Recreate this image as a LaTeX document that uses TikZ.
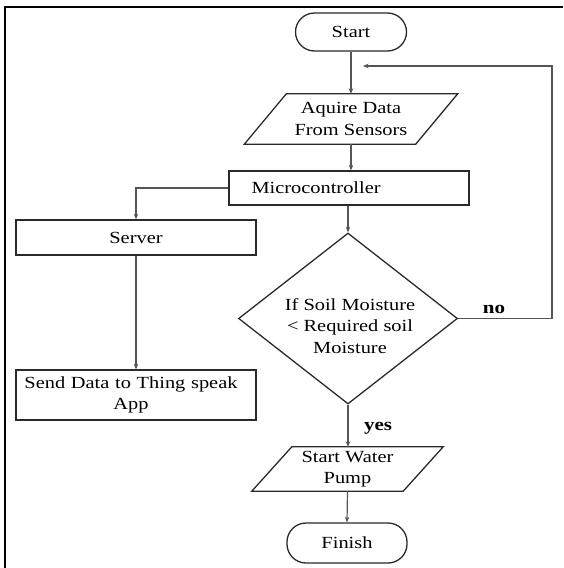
\documentclass[tikz,border=0pt]{standalone}
\usepackage{fontspec}
\setmainfont{Liberation Serif}[FakeStretch=1.2]
\usetikzlibrary{arrows.meta,shapes.geometric}
\definecolor{linec}{HTML}{555555}
\definecolor{boxc}{HTML}{2A2A2A}
\begin{document}
\begin{tikzpicture}[x=1pt,y=-1pt,
  every node/.style={font=\fontsize{17}{21.5}\selectfont, text=black},
  outl/.style={draw=boxc, line width=1.3pt},
  box/.style={outl, rectangle, inner sep=0pt, align=center},
  term/.style={box, rounded corners=19pt},
  para/.style={align=center, inner sep=0pt},
  conn/.style={draw=linec, line width=1.2pt, -{Stealth[length=5.5pt,width=4.5pt]}},
  lbl/.style={font=\bfseries\fontsize{17.5}{20}\selectfont}]
\useasboundingbox (0,0) rectangle (563,568);
% outer frame
\draw[line width=2pt, black] (563,7) -- (5,7) -- (5,568);

% nodes
\node[term, minimum width=111pt, minimum height=38pt] (start) at (351,32) {Start};

\node[para, minimum width=171pt, minimum height=50pt] (acq) at (351,119) {Aquire Data\\From Sensors};
\draw[outl] ([xshift=21pt]acq.north west) -- ([xshift=21pt]acq.north east)
  -- ([xshift=-21pt]acq.south east) -- ([xshift=-21pt]acq.south west) -- cycle;

\node[box, minimum width=240pt, minimum height=34pt, text width=195pt, align=left] (micro) at (349,188) {Microcontroller};

\node[box, minimum width=240pt, minimum height=35pt] (server) at (136,237.5) {Server};

\node[box, minimum width=240pt, minimum height=50pt, text width=226pt, align=center] (send) at (136,395) {\hspace*{-10pt}Send Data to Thing speak\\\hspace*{-10pt}App};

\node[diamond, outl, minimum width=219pt, minimum height=171pt, inner sep=0pt, aspect=1.28] (dia) at (348,318.5) {};
\node[align=center] (diatext) at (350,326) {If Soil Moisture\\< Required soil\\Moisture};

\node[para, minimum width=151pt, minimum height=44pt] (pump) at (347.5,469) {Start Water\\Pump};
\draw[outl] ([xshift=20pt]pump.north west) -- ([xshift=20pt]pump.north east)
  -- ([xshift=-20pt]pump.south east) -- ([xshift=-20pt]pump.south west) -- cycle;

\node[term, minimum width=120pt, minimum height=40pt] (finish) at (347,543) {Finish};

\node[lbl] (no) at (494,309) {no};
\node[lbl] (yes) at (378,428) {yes};

\coordinate (loopR) at (552,318.5);
\coordinate (loopTop) at (552,66);
\coordinate (loopEnd) at (363,66);

% connectors
\draw[conn] (start.south) -- (acq.north);
\draw[conn] (acq.south) -- (acq.south |- micro.north);
\draw[conn] (micro.west) -| (server.north);
\draw[conn] (dia.north |- micro.south) -- (dia.north);
\draw[conn] (server.south) -- (send.north);
\draw[conn] (dia.south) -- (dia.south |- pump.north);
\draw[conn] (dia.east) -- (loopR) -- (loopTop) -- (loopEnd);
\draw[conn] (pump.south) -- (finish.north);
\end{tikzpicture}
\end{document}
